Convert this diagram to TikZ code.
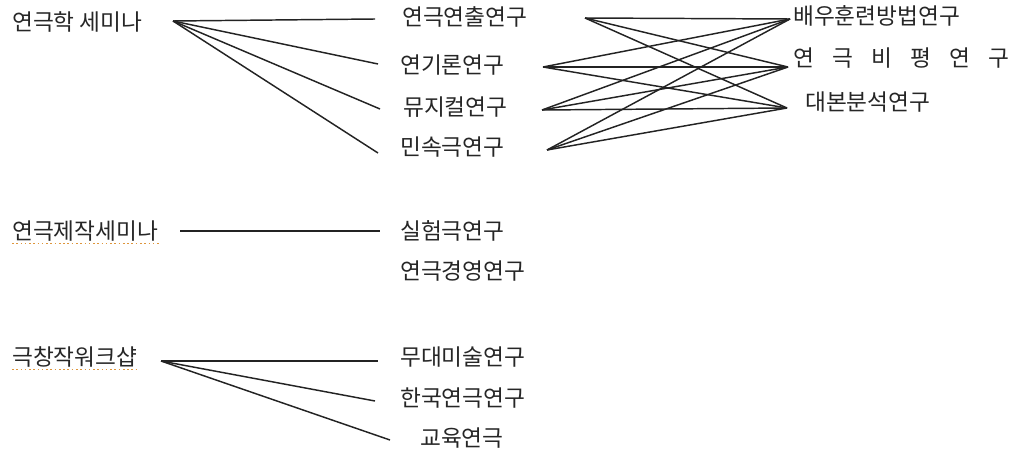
\documentclass[tikz,border=0pt]{standalone}
\usepackage{fontspec}
\newfontfamily\kor{Noto Sans CJK KR}
\definecolor{lineDark}{RGB}{35,35,35}
\definecolor{spellOrange}{RGB}{222,150,60}
\usetikzlibrary{calc}

\begin{document}
\begin{tikzpicture}[x=0.75pt, y=-0.75pt,
    every node/.style={font=\kor\fontsize{17}{20}\selectfont, anchor=west, inner sep=0pt, text=black!85},
    link/.style={lineDark, line width=1.1pt},
    spell/.style={spellOrange, dotted, line width=1.2pt}]
  \useasboundingbox (0,0) rectangle (1013,453);

  % seminars
  \node (hak) at (12,22) {연극학 세미나};
  \node (jejak) at (12,231) {연극제작세미나};
  \node (changjak) at (12,357) {극창작워크샵};

  % middle column
  \node (chul) at (402,17) {연극연출연구};
  \node (giron) at (400,65) {연기론연구};
  \node (musical) at (403,107) {뮤지컬연구};
  \node (minsok) at (400,147) {민속극연구};
  \node (silheom) at (400,231) {실험극연구};
  \node (gyeong) at (400,271) {연극경영연구};
  \node (mudae) at (400,357) {무대미술연구};
  \node (hanguk) at (400,398) {한국연극연구};
  \node (gyoyuk) at (420,438) {교육연극};

  % right column
  \node (baeu) at (793,16) {배우훈련방법연구};
  \node (bipyeong) at (793,58) {\spaceskip=0.8em\relax 연 극 비 평 연 구};
  \node (daebon) at (805,102) {대본분석연구};

  % spell check marks
  \draw[spell] ($(jejak.south west)+(0,2)$) -- ($(jejak.south east)+(0,2)$);
  \draw[spell] ($(changjak.south west)+(0,2)$) -- ($(changjak.south east)+(0,2)$);

  % fans
  \coordinate (hakHub) at ($(hak.west)+(161,-1)$);
  \foreach \n/\dx/\dy in {chul/-27/2, giron/-22/-1, musical/-23/2, minsok/-22/6}
    \draw[link] (hakHub) -- ($(\n.west)+(\dx,\dy)$);

  \draw[link] ($(jejak.west)+(168,0)$) -- ($(silheom.west)+(-20,0)$);

  \coordinate (changHub) at ($(changjak.west)+(149,4)$);
  \foreach \n/\dx/\dy in {mudae/-22/4, hanguk/-25/3, gyoyuk/-30/2}
    \draw[link] (changHub) -- ($(\n.west)+(\dx,\dy)$);

  % every study to every method
  \foreach \a/\adx/\ady in {chul/183/1, giron/143/2, musical/139/3, minsok/147/3}
    \foreach \b/\bdx/\bdy in {baeu/-3/3, bipyeong/-5/9, daebon/-18/6}
      \draw[link] ($(\a.west)+(\adx,\ady)$) -- ($(\b.west)+(\bdx,\bdy)$);
\end{tikzpicture}
\end{document}
